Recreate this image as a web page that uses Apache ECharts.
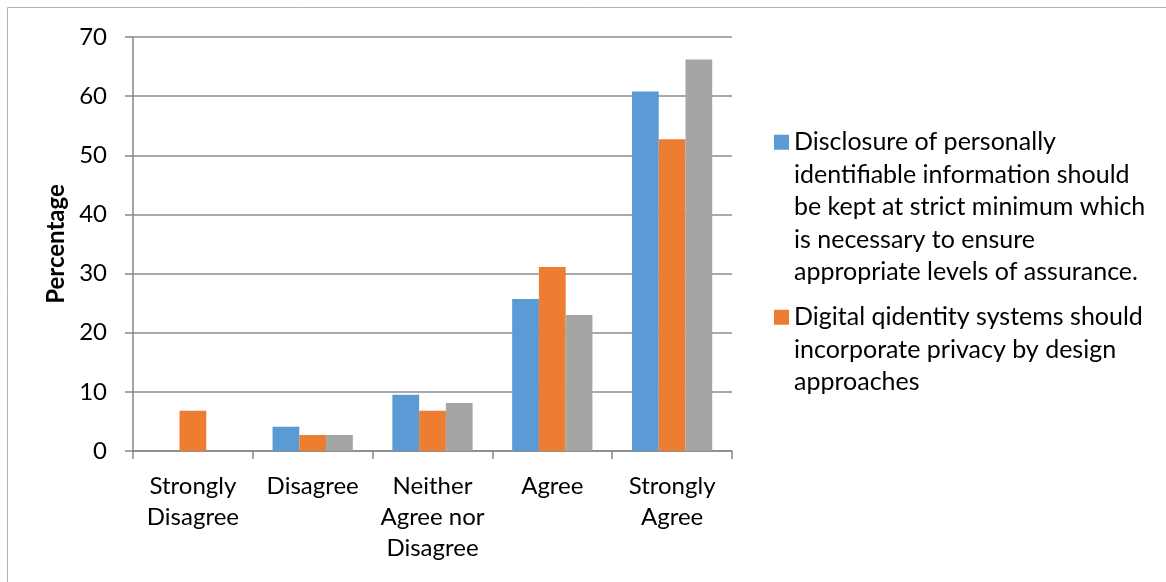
<!DOCTYPE html>
<html>
<head>
<meta charset="utf-8">
<script src="https://cdn.jsdelivr.net/npm/echarts@6/dist/echarts.min.js"></script>
<style>
  html, body { margin: 0; padding: 0; background: #fff; }
  #chart { width: 1166px; height: 582px; }
</style>
</head>
<body>
<div id="chart"></div>
<script>
// Response categories (x axis)
const categories = ['Strongly\nDisagree', 'Disagree', 'Neither\nAgree nor\nDisagree', 'Agree', 'Strongly\nAgree'];

// Series names (legend shows the first two)
const nameDisclosure = 'Disclosure of personally\nidentifiable information should\nbe kept at strict minimum which\nis necessary to ensure\nappropriate levels of assurance.';
const namePrivacy = 'Digital qidentity systems should\nincorporate privacy by design\napproaches';
const nameThird = 'Series 3';

// Percentages per category
const disclosureValues = [0, 4.1, 9.5, 25.7, 60.8];
const privacyValues = [6.8, 2.7, 6.8, 31.1, 52.7];
const thirdValues = [0, 2.7, 8.1, 23.0, 66.2];

// Value axis range
const yMin = 0, yMax = 70, yStep = 10;

const FONT = 'Lato';
const AXIS_GRAY = '#868686';
const LINE_H = 32.5;
const MARK = 15;

const chart = echarts.init(document.getElementById('chart'), null, { renderer: 'canvas' });

// Legend entry whose square marker sits beside the first text line:
// the icon path is a unit square plus an invisible zero-area segment that
// stretches the icon box down to the text block's height.
function legendBlock(name, top) {
  const lines = name.split('\n').length;
  const h = MARK + (lines - 1) * LINE_H;
  const n = (h / MARK).toFixed(4);
  return {
    data: [name],
    orient: 'vertical',
    left: 774,
    top: top,
    padding: 0,
    itemWidth: MARK,
    itemHeight: h,
    itemGap: 0,
    icon: 'path://M0,0H1V1H0Z M0,' + n + 'L1,' + n,
    symbolKeepAspect: false,
    selectedMode: false,
    textStyle: {
      fontFamily: FONT,
      fontSize: 25,
      lineHeight: LINE_H,
      color: '#000'
    }
  };
}

chart.setOption({
  animation: false,
  textStyle: { fontFamily: FONT },
  graphic: [{
    type: 'rect',
    shape: { x: 7.5, y: 7.5, width: 1300, height: 700 },
    style: { fill: 'none', stroke: '#b3b3b3', lineWidth: 1 },
    silent: true,
    z: -10
  }],
  grid: { left: 133, right: 434, top: 37, bottom: 131, containLabel: false },
  legend: [
    legendBlock(nameDisclosure, 126),
    legendBlock(namePrivacy, 301)
  ],
  xAxis: {
    type: 'category',
    data: categories,
    axisLine: { lineStyle: { color: AXIS_GRAY, width: 1.5 } },
    axisTick: { show: true, length: 8, lineStyle: { color: AXIS_GRAY, width: 1.5 } },
    axisLabel: { interval: 0, fontFamily: FONT, fontSize: 24, lineHeight: 31, color: '#000', margin: 20 }
  },
  yAxis: {
    type: 'value',
    min: yMin,
    max: yMax,
    interval: yStep,
    name: 'Percentage',
    nameLocation: 'middle',
    nameRotate: 90,
    nameGap: 60,
    nameTextStyle: { fontFamily: FONT, fontSize: 24, fontWeight: 'bold', color: '#000' },
    axisLine: { show: true, lineStyle: { color: AXIS_GRAY, width: 1.5 } },
    axisTick: { show: true, length: 8, lineStyle: { color: AXIS_GRAY, width: 1.5 } },
    axisLabel: { fontFamily: FONT, fontSize: 24, color: '#000', margin: 26 },
    splitLine: { show: true, lineStyle: { color: '#8c8c8c', width: 1.5 } }
  },
  series: [
    { name: nameDisclosure, type: 'bar', data: disclosureValues, barGap: '0%', barCategoryGap: '33%', itemStyle: { color: '#5B9BD5' } },
    { name: namePrivacy, type: 'bar', data: privacyValues, barGap: '0%', barCategoryGap: '33%', itemStyle: { color: '#ED7D31' } },
    { name: nameThird, type: 'bar', data: thirdValues, barGap: '0%', barCategoryGap: '33%', itemStyle: { color: '#A5A5A5' } }
  ]
});
</script>
</body>
</html>
